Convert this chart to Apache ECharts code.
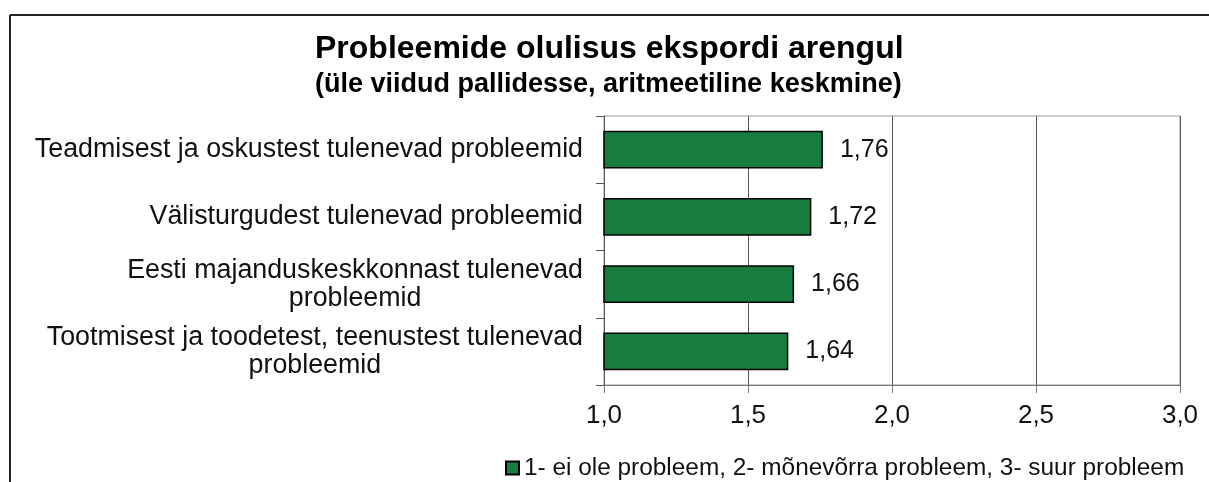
<!DOCTYPE html>
<html>
<head>
<meta charset="utf-8">
<script src="https://cdn.jsdelivr.net/npm/echarts@6/dist/echarts.min.js"></script>
<style>
  html, body { margin: 0; padding: 0; background: #fff; }
  #chart { width: 1209px; height: 482px; }
</style>
</head>
<body>
<div id="chart"></div>
<script>
  // kategooriad ja keskmised hinded
  var categories = [
    'Teadmisest ja oskustest tulenevad probleemid',
    'Välisturgudest tulenevad probleemid',
    'Eesti majanduskeskkonnast tulenevad\nprobleemid',
    'Tootmisest ja toodetest, teenustest tulenevad\nprobleemid'
  ];
  var values = [1.76, 1.72, 1.66, 1.64];
  var seriesName = '1- ei ole probleem, 2- mõnevõrra probleem, 3- suur probleem';
  var axisMin = 1.0;
  var axisMax = 3.0;
  var axisStep = 0.5;

  var font = 'Liberation Sans, Arial, sans-serif';
  var comma = function (v, d) { return v.toFixed(d).replace('.', ','); };

  var chart = echarts.init(document.getElementById('chart'));
  chart.setOption({
    animation: false,
    title: [
      {
        text: 'Probleemide olulisus ekspordi arengul',
        left: 310,
        top: 28,
        textStyle: { fontFamily: font, fontSize: 32, fontWeight: 'bold', color: '#000' }
      },
      {
        text: '(üle viidud pallidesse, aritmeetiline keskmine)',
        left: 310,
        top: 66,
        textStyle: { fontFamily: font, fontSize: 27, fontWeight: 'bold', color: '#000' }
      }
    ],
    graphic: [ // raam ümber joonise
      { type: 'line', shape: { x1: 10, y1: 15, x2: 1209, y2: 15 }, style: { stroke: '#222', lineWidth: 2 } },
      { type: 'line', shape: { x1: 10, y1: 15, x2: 10, y2: 482 }, style: { stroke: '#222', lineWidth: 2 } }
    ],
    legend: {
      data: [seriesName],
      icon: 'rect',
      left: 500,
      top: 451,
      itemWidth: 13,
      itemHeight: 13,
      textStyle: { fontFamily: font, fontSize: 24.4, color: '#111' }
    },
    grid: {
      left: 604,
      top: 116,
      width: 576,
      height: 269,
      show: true,
      borderColor: '#999',
      borderWidth: 1
    },
    xAxis: {
      type: 'value',
      min: axisMin,
      max: axisMax,
      interval: axisStep,
      axisLine: { show: true, lineStyle: { color: '#777' } },
      axisTick: { show: true, length: 8, lineStyle: { color: '#777' } },
      splitLine: { show: true, lineStyle: { color: '#555' } },
      axisLabel: {
        margin: 18,
        fontFamily: font,
        fontSize: 26,
        color: '#111',
        formatter: function (v) { return comma(v, 1); }
      }
    },
    yAxis: {
      type: 'category',
      data: categories,
      inverse: true,
      axisLine: { show: true, lineStyle: { color: '#555' } },
      axisTick: { show: true, length: 8, lineStyle: { color: '#555' } },
      axisLabel: {
        margin: 21,
        align: 'right',
        formatter: function (v) {
          return v.split('\n').map(function (l) { return '{c|' + l + '}'; }).join('\n');
        },
        rich: {
          c: { align: 'center', fontFamily: font, fontSize: 26.8, lineHeight: 28, color: '#111' }
        }
      }
    },
    series: [
      {
        name: seriesName,
        type: 'bar',
        data: values,
        barCategoryGap: '44%',
        itemStyle: { color: '#187c3e', borderColor: '#000', borderWidth: 1.5 },
        label: {
          show: true,
          position: 'right',
          distance: 17,
          fontFamily: font,
          fontSize: 25,
          color: '#111',
          formatter: function (p) { return comma(p.value, 2); }
        }
      }
    ]
  });
</script>
</body>
</html>
